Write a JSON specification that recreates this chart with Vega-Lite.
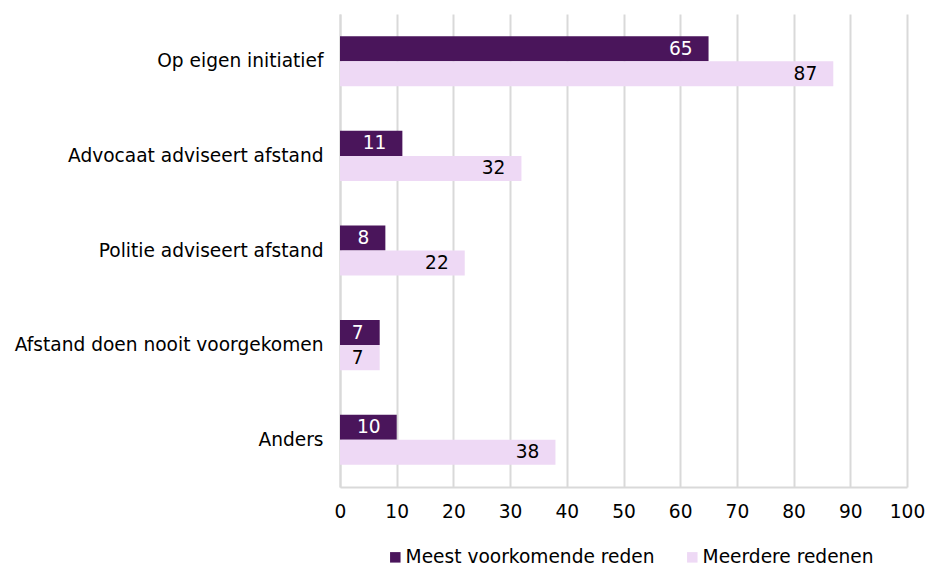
{
  "$schema": "https://vega.github.io/schema/vega-lite/v6.json",
  "autosize": "none",
  "width": 567,
  "height": 473,
  "padding": {"left": 340, "top": 14, "right": 18, "bottom": 80},
  "background": "white",
  "config": {
    "font": "DejaVu Sans",
    "view": {"stroke": null},
    "axis": {"labelFont": "DejaVu Sans", "labelFontSize": 18.6, "labelColor": "#000000"}
  },
  "data": {
    "values": [
      {"category": "Op eigen initiatief", "series": "Meest voorkomende reden", "value": 65},
      {"category": "Op eigen initiatief", "series": "Meerdere redenen", "value": 87},
      {"category": "Advocaat adviseert afstand", "series": "Meest voorkomende reden", "value": 11},
      {"category": "Advocaat adviseert afstand", "series": "Meerdere redenen", "value": 32},
      {"category": "Politie adviseert afstand", "series": "Meest voorkomende reden", "value": 8},
      {"category": "Politie adviseert afstand", "series": "Meerdere redenen", "value": 22},
      {"category": "Afstand doen nooit voorgekomen", "series": "Meest voorkomende reden", "value": 7},
      {"category": "Afstand doen nooit voorgekomen", "series": "Meerdere redenen", "value": 7},
      {"category": "Anders", "series": "Meest voorkomende reden", "value": 10},
      {"category": "Anders", "series": "Meerdere redenen", "value": 38}
    ]
  },
  "encoding": {
    "y": {
      "field": "category", "type": "nominal", "sort": null, "title": null,
      "scale": {"paddingInner": 0.47, "paddingOuter": 0.235},
      "axis": {"ticks": false, "domain": true, "domainColor": "#d9d9d9", "domainWidth": 2, "labelPadding": 17, "labelLimit": 400}
    },
    "yOffset": {"field": "series", "type": "nominal", "sort": null, "scale": {"paddingInner": 0, "paddingOuter": 0}},
    "x": {
      "field": "value", "type": "quantitative", "title": null,
      "scale": {"domain": [0, 100], "nice": false},
      "axis": {"values": [0,10,20,30,40,50,60,70,80,90,100], "grid": true, "gridColor": "#d9d9d9", "gridWidth": 2, "domainColor": "#d9d9d9", "domainWidth": 2, "ticks": false, "labelPadding": 15, "labelFlush": false}
    }
  },
  "layer": [
    {
      "mark": {"type": "bar"},
      "encoding": {
        "color": {
          "field": "series", "type": "nominal", "sort": null,
          "scale": {"domain": ["Meest voorkomende reden", "Meerdere redenen"], "range": ["#4a155b", "#eed9f5"]},
          "legend": {
            "title": null, "orient": "none", "direction": "horizontal",
            "legendX": 46, "legendY": 534,
            "symbolType": "square", "symbolSize": 110, "symbolStrokeWidth": 0,
            "labelFontSize": 18.6, "labelFont": "DejaVu Sans", "labelColor": "#000000",
            "labelOffset": 1, "columnPadding": 28, "labelLimit": 400
          }
        }
      }
    },
    {
      "mark": {"type": "text", "align": "right", "baseline": "middle", "dx": -16, "fontSize": 18.6},
      "encoding": {
        "text": {"field": "value", "type": "quantitative"},
        "color": {"condition": {"test": "datum.series === 'Meest voorkomende reden'", "value": "#ffffff"}, "value": "#000000"}
      }
    }
  ]
}
